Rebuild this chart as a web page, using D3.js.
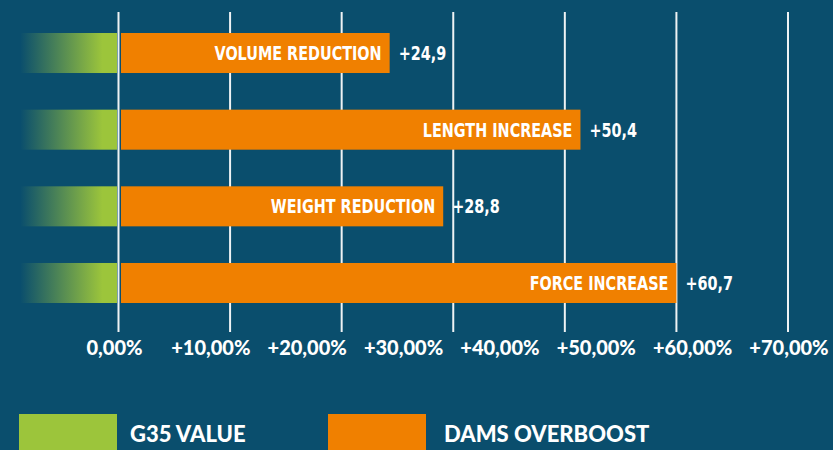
<!DOCTYPE html>
<html>
<head>
<meta charset="utf-8">
<script src="https://cdn.jsdelivr.net/npm/d3@7"></script>
<style>
  html, body { margin: 0; padding: 0; background: #0a4e6d; }
  svg { display: block; }
</style>
</head>
<body>
<svg></svg>
<script>
//categories, top to bottom
let categories = ["VOLUME REDUCTION", "LENGTH INCREASE", "WEIGHT REDUCTION", "FORCE INCREASE"];
//printed value next to each bar
let valueLabels = ["+24,9", "+50,4", "+28,8", "+60,7"];
//bar lengths as drawn, read against the grid (in %)
let barLengths = [24.3, 41.4, 29.1, 50.0];
//g35 baseline bar, fades out to the left (in %)
let greenStart = -8.8;
//grid values and bottom labels
let gridValues = [0, 10, 20, 30, 40, 50, 60];
let tickLabels = ["0,00%", "+10,00%", "+20,00%", "+30,00%", "+40,00%", "+50,00%", "+60,00%", "+70,00%"];
//legend
let legendNames = ["G35 VALUE", "DAMS OVERBOOST"];

let width = 833;
let height = 450;
let green = "#9cc53b";
let orange = "#f08000";
let condensed = "'DejaVu Sans Condensed', 'DejaVu Sans', sans-serif";
let humanist = "Lato, 'Open Sans', sans-serif";
//the original uses a narrow face, squeeze the glyphs a bit
let squeeze = 0.8;

let svg = d3.select("svg").attr("width", width).attr("height", height);

let xScale = d3.scaleLinear().domain([0, 60]).range([118.5, 788]);
let yScale = d3.scaleBand().domain(categories).range([33, 303]).paddingInner(0.478);
let labelScale = d3.scalePoint().domain(tickLabels).range([114.5, 789]);

//gradient for the green bars
let grad = svg.append("defs").append("linearGradient")
  .attr("id", "greenFade")
  .attr("x1", "0%").attr("x2", "100%");
grad.append("stop").attr("offset", "0%").attr("stop-color", green).attr("stop-opacity", 0);
grad.append("stop").attr("offset", "85%").attr("stop-color", green).attr("stop-opacity", 1);
grad.append("stop").attr("offset", "100%").attr("stop-color", green).attr("stop-opacity", 1);

//grid lines
svg.append("g")
  .selectAll("line")
  .data(gridValues)
  .enter()
  .append("line")
  .attr("x1", (d) => xScale(d))
  .attr("x2", (d) => xScale(d))
  .attr("y1", 12)
  .attr("y2", 332)
  .attr("stroke", "#eef2f4")
  .attr("stroke-width", 2);

//green bars
svg.append("g")
  .selectAll("rect")
  .data(categories)
  .enter()
  .append("rect")
  .attr("x", xScale(greenStart))
  .attr("width", xScale(0) - 1.5 - xScale(greenStart))
  .attr("y", (d) => yScale(d))
  .attr("height", yScale.bandwidth())
  .attr("fill", "url(#greenFade)");

//orange bars
let rows = categories.map((c, i) => ({ name: c, len: barLengths[i], label: valueLabels[i] }));

svg.append("g")
  .selectAll("rect")
  .data(rows)
  .enter()
  .append("rect")
  .attr("x", xScale(0) + 2.5)
  .attr("width", (d) => xScale(d.len) - xScale(0) - 2.5)
  .attr("y", (d) => yScale(d.name))
  .attr("height", yScale.bandwidth())
  .attr("fill", orange);

//names inside the bars
svg.append("g")
  .selectAll("text")
  .data(rows)
  .enter()
  .append("text")
  .attr("transform", (d) =>
    "translate(" + (xScale(d.len) - 8) + "," + (yScale(d.name) + yScale.bandwidth() / 2 + 7) + ") scale(" + squeeze + ",1)")
  .attr("text-anchor", "end")
  .attr("fill", "#ffffff")
  .style("font-family", condensed)
  .style("font-weight", "bold")
  .style("font-size", "20px")
  .text((d) => d.name);

//values after the bars
svg.append("g")
  .selectAll("text")
  .data(rows)
  .enter()
  .append("text")
  .attr("transform", (d) =>
    "translate(" + (xScale(d.len) + 9) + "," + (yScale(d.name) + yScale.bandwidth() / 2 + 7) + ") scale(" + squeeze + ",1)")
  .attr("fill", "#ffffff")
  .style("font-family", condensed)
  .style("font-weight", "bold")
  .style("font-size", "20px")
  .text((d) => d.label);

//bottom labels
svg.append("g")
  .selectAll("text")
  .data(tickLabels)
  .enter()
  .append("text")
  .attr("x", (d) => labelScale(d))
  .attr("y", 355)
  .attr("text-anchor", "middle")
  .attr("fill", "#ffffff")
  .style("font-family", humanist)
  .style("font-weight", "900")
  .style("font-size", "20px")
  .text((d) => d);

//legend
let legendScale = d3.scalePoint().domain(legendNames).range([19, 328]);
let legend = svg.append("g")
  .selectAll("g")
  .data(legendNames)
  .enter()
  .append("g")
  .attr("transform", (d) => "translate(" + legendScale(d) + ", 414)");

legend.append("rect")
  .attr("width", 98)
  .attr("height", 40)
  .attr("fill", (d, i) => (i === 0 ? green : orange));

legend.append("text")
  .attr("x", (d, i) => (i === 0 ? 111 : 116))
  .attr("y", 28)
  .attr("fill", "#ffffff")
  .style("font-family", humanist)
  .style("font-weight", "900")
  .style("font-size", "22px")
  .text((d) => d);
</script>
</body>
</html>
